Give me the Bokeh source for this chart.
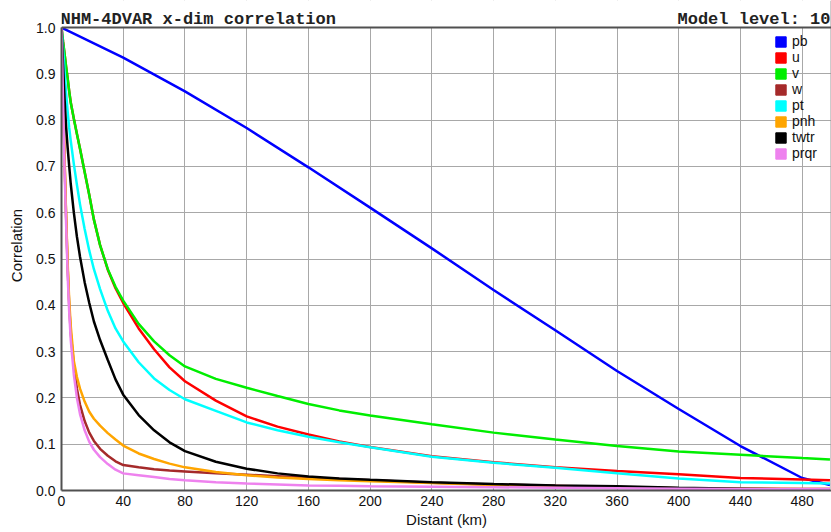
from bokeh.plotting import figure
from bokeh.models import (Label, Span, FixedTicker, Legend, LegendItem, BoxAnnotation,
                          PrintfTickFormatter)
from bokeh.embed import file_html
from bokeh.resources import INLINE

# ---------------- data ----------------
pb_km = [0, 40, 80, 120, 160, 200, 240, 280, 320, 360, 400, 440, 480, 498]
pb = [1.0, 0.935, 0.862, 0.783, 0.698, 0.611, 0.523, 0.433, 0.346, 0.258, 0.176, 0.096, 0.027, 0.012]

dist = [0, 1, 2, 3, 4, 5, 6, 8, 10, 12, 15, 18, 21, 25, 30, 35, 40, 50, 60, 70, 80,
        100, 120, 140, 160, 180, 200, 240, 280, 320, 360, 400, 440, 480, 498]

u = [1.0, 0.97, 0.943, 0.915, 0.89, 0.862, 0.838, 0.803, 0.77, 0.738, 0.688, 0.638, 0.585, 0.53, 0.477,
     0.437, 0.405, 0.35, 0.305, 0.266, 0.236, 0.194, 0.16, 0.138, 0.121, 0.106, 0.094, 0.074, 0.061,
     0.050, 0.042, 0.035, 0.027, 0.024, 0.022]
v = [1.0, 0.97, 0.943, 0.915, 0.89, 0.862, 0.838, 0.803, 0.77, 0.738, 0.688, 0.638, 0.585, 0.53, 0.478,
     0.44, 0.41, 0.36, 0.322, 0.292, 0.268, 0.241, 0.222, 0.204, 0.187, 0.173, 0.162, 0.143, 0.125,
     0.110, 0.096, 0.084, 0.077, 0.070, 0.067]
w = [1.0, 0.86, 0.71, 0.59, 0.48, 0.40, 0.34, 0.27, 0.22, 0.185, 0.15, 0.125, 0.107, 0.09, 0.075,
     0.063, 0.055, 0.05, 0.046, 0.043, 0.041, 0.037, 0.034, 0.031, 0.028, 0.025, 0.022, 0.017, 0.013,
     0.010, 0.007, 0.005, 0.004, 0.003, 0.003]
pt = [1.0, 0.955, 0.905, 0.858, 0.818, 0.783, 0.755, 0.705, 0.66, 0.618, 0.565, 0.518, 0.478, 0.435, 0.388,
      0.35, 0.322, 0.277, 0.242, 0.217, 0.197, 0.172, 0.147, 0.13, 0.116, 0.104, 0.0935, 0.073, 0.060,
      0.049, 0.037, 0.026, 0.018, 0.016, 0.015]
pnh = [1.0, 0.86, 0.715, 0.595, 0.49, 0.41, 0.355, 0.28, 0.245, 0.22, 0.192, 0.17, 0.155, 0.14, 0.124,
       0.11, 0.097, 0.08, 0.068, 0.058, 0.05, 0.04, 0.033, 0.028, 0.025, 0.022, 0.02, 0.016, 0.012,
       0.009, 0.007, 0.005, 0.004, 0.003, 0.003]
twtr = [1.0, 0.92, 0.845, 0.785, 0.74, 0.70, 0.662, 0.60, 0.548, 0.505, 0.45, 0.405, 0.365, 0.325, 0.282,
        0.24, 0.207, 0.163, 0.13, 0.104, 0.085, 0.062, 0.047, 0.037, 0.030, 0.026, 0.023, 0.018, 0.014,
        0.011, 0.009, 0.006, 0.004, 0.002, 0.001]
prqr = [1.0, 0.84, 0.69, 0.575, 0.465, 0.385, 0.325, 0.25, 0.2, 0.165, 0.13, 0.105, 0.088, 0.072, 0.057,
        0.045, 0.037, 0.033, 0.029, 0.025, 0.022, 0.018, 0.015, 0.013, 0.011, 0.010, 0.009, 0.008, 0.007,
        0.006, 0.005, 0.004, 0.003, 0.003, 0.003]

series_names = ["pb", "u", "v", "w", "pt", "pnh", "twtr", "prqr"]
series_colors = ["#0000ff", "#ff0000", "#00ee00", "#a52a2a", "#00ffff", "#ffa500", "#000000", "#ee82ee"]

x_ticks = [0, 40, 80, 120, 160, 200, 240, 280, 320, 360, 400, 440, 480]
y_ticks = [0.0, 0.1, 0.2, 0.3, 0.4, 0.5, 0.6, 0.7, 0.8, 0.9, 1.0]

title_left = "NHM-4DVAR x-dim correlation"
title_right = "Model level: 10"
x_label = "Distant (km)"
y_label = "Correlation"

# ---------------- figure ----------------
X_END = 499
Y_TOP = 1.0 + 27.0 / 463.0   # room for the header text inside the frame
p = figure(width=831, height=532, output_backend="svg", toolbar_location=None,
           x_range=(0, X_END), y_range=(0, Y_TOP),
           min_border_left=61, min_border_right=0, min_border_top=0, min_border_bottom=42)
p.background_fill_color = "white"
p.border_fill_color = "white"
p.outline_line_color = None

for ax in (p.xaxis[0], p.yaxis[0]):
    ax.axis_line_color = "#505050"
    ax.axis_line_width = 2
    ax.major_tick_in = 0
    ax.major_tick_out = 0
    ax.minor_tick_line_color = None
    ax.major_label_text_font = "Liberation Sans"
    ax.major_label_text_font_size = "14px"
    ax.major_label_text_color = "#111111"
    ax.axis_label_text_font = "Liberation Sans"
    ax.axis_label_text_font_size = "15px"
    ax.axis_label_text_font_style = "normal"
    ax.axis_label_text_color = "#111111"

p.xaxis.ticker = FixedTicker(ticks=x_ticks)
p.yaxis.ticker = FixedTicker(ticks=y_ticks)
p.yaxis.formatter = PrintfTickFormatter(format="%.1f")
p.yaxis.bounds = (0, 1.0)
p.xaxis.axis_label = x_label
p.yaxis.axis_label = y_label
p.xaxis.major_label_standoff = 5
p.xaxis.axis_label_standoff = 2
p.yaxis.major_label_standoff = 6
p.yaxis.axis_label_standoff = 8

p.xgrid.ticker = FixedTicker(ticks=x_ticks)
p.ygrid.ticker = FixedTicker(ticks=y_ticks)
for g in (p.xgrid[0], p.ygrid[0]):
    g.grid_line_color = "#a8a8a8"
    g.grid_line_width = 1
p.xgrid.bounds = (0, 1.0)

# ---------------- lines ----------------
all_y = [pb, u, v, w, pt, pnh, twtr, prqr]
for name, col, ys in zip(series_names, series_colors, all_y):
    xs = pb_km if name == "pb" else dist
    p.line(xs, ys, line_color=col, line_width=2.5)

# white header band above the data area, frame lines
p.add_layout(BoxAnnotation(bottom=1.0, fill_color="white", fill_alpha=1.0, line_color=None))
p.add_layout(Span(location=X_END, dimension="height", line_color="#999999", line_width=2))
p.add_layout(Span(location=1.0, dimension="width", line_color="#505050", line_width=2))

# legend with filled squares
nan = float("nan")
items = []
for name, col in zip(series_names, series_colors):
    r = p.quad(left=[nan], right=[nan], top=[nan], bottom=[nan], fill_color=col, line_color=col, line_width=1)
    items.append(LegendItem(label=name, renderers=[r]))
legend = Legend(items=items, location=(713, 329), orientation="vertical")
legend.glyph_width = 13
legend.glyph_height = 13
legend.label_height = 16
legend.spacing = 0
legend.padding = 0
legend.margin = 0
legend.label_standoff = 5
legend.label_text_font = "Liberation Sans"
legend.label_text_font_size = "14px"
legend.label_text_color = "#111111"
legend.border_line_color = None
legend.background_fill_alpha = 0
p.add_layout(legend, "center")

# ---------------- header texts ----------------
p.add_layout(Label(x=0, y=1.0, x_offset=-1, y_offset=8, text=title_left,
                   text_font="Liberation Mono", text_font_style="bold",
                   text_font_size="17px", text_color="#222222",
                   text_align="left", text_baseline="alphabetic"))
p.add_layout(Label(x=X_END, y=1.0, x_offset=-1, y_offset=8, text=title_right,
                   text_font="Liberation Mono", text_font_style="bold",
                   text_font_size="17px", text_color="#222222",
                   text_align="right", text_baseline="alphabetic"))

open("out.html", "w").write(file_html(p, INLINE))
